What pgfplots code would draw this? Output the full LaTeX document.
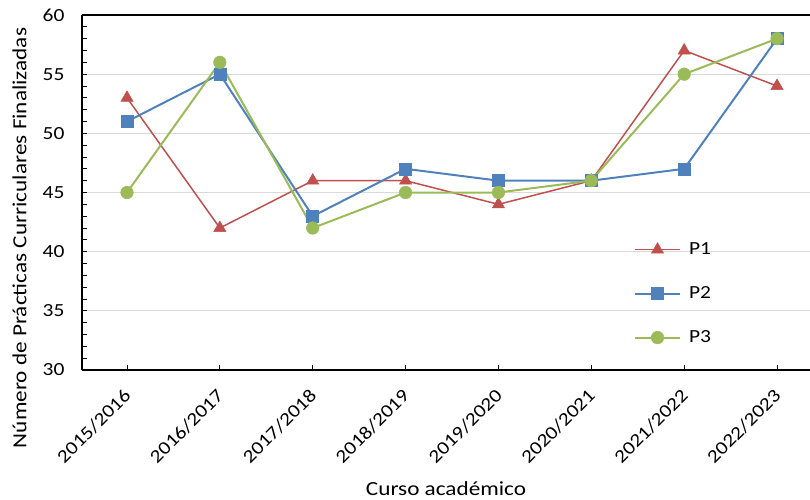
\documentclass[border=0pt]{standalone}
\usepackage{pgfplots}
\pgfplotsset{compat=1.18}
\usepackage{fontspec}
\setmainfont{Carlito}[FakeStretch=1.16]
\definecolor{cP1}{HTML}{C0504D}
\definecolor{cP2}{HTML}{4F81BD}
\definecolor{cP3}{HTML}{9BBB59}
\definecolor{cgrid}{HTML}{D9D9D9}
\begin{document}
\begin{tikzpicture}
\begin{axis}[
  name=ax,
  scale only axis,
  width=728bp, height=355bp,
  xmin=-0.4846, xmax=7.355,
  ymin=30, ymax=60,
  axis x line=box, axis y line=left,
  axis line style={-, line width=1.4bp, black},
  xtick={0,1,2,3,4,5,6,7},
  xticklabels={2015/2016,2016/2017,2017/2018,2018/2019,2019/2020,2020/2021,2021/2022,2022/2023},
  ytick={30,35,40,45,50,55,60},
  minor y tick num=4,
  xtick pos=bottom, ytick pos=left,
  tick align=inside,
  major tick length=5bp, minor tick length=5bp,
  tick style={black, line width=1bp},
  ymajorgrids,
  grid style={cgrid, line width=1.2bp},
  /pgf/number format/assume math mode=true,
  ticklabel style={font=\fontsize{18.5bp}{20bp}\selectfont},
  yticklabel style={xshift=-14bp},
  xticklabel style={yshift=-20bp, xshift=3bp, rotate=45, anchor=east},
  xlabel={Curso académico},
  ylabel={Número de Prácticas Curriculares Finalizadas},
  every axis x label/.style={at={(axis description cs:0.5,-0.335)}, anchor=center, font=\fontsize{20bp}{22bp}\selectfont},
  every axis y label/.style={at={(axis description cs:-0.086,0.372)}, anchor=center, rotate=90, font=\fontsize{20bp}{22bp}\selectfont},
  legend style={at={(axis description cs:0.758,0.364)}, anchor=north west,
    draw=none, fill=none, font=\fontsize{18.5bp}{20bp}\selectfont,
    row sep=26.5bp, inner sep=0pt,
    /tikz/every odd column/.append style={column sep=6bp}},
  legend cell align=left,
  legend image code/.code={\draw[mark repeat=2,mark phase=2,#1] plot coordinates {(0bp,0bp) (22.5bp,0bp) (45bp,0bp)};},
]
\addplot[color=cP1, line width=1.5bp, mark=triangle*, mark size=7bp, mark options={solid, line width=0.5bp}]
  coordinates {(0,53) (1,42) (2,46) (3,46) (4,44) (5,46) (6,57) (7,54)};
\addlegendentry{P1}
\addplot[color=cP2, line width=2bp, mark=square*, mark size=6bp, mark options={solid, line width=0.5bp}]
  coordinates {(0,51) (1,55) (2,43) (3,47) (4,46) (5,46) (6,47) (7,58)};
\addlegendentry{P2}
\addplot[color=cP3, line width=2bp, mark=*, mark size=6.3bp, mark options={solid, line width=0.5bp}]
  coordinates {(0,45) (1,56) (2,42) (3,45) (4,45) (5,46) (6,55) (7,58)};
\addlegendentry{P3}
\end{axis}
\pgfresetboundingbox
\useasboundingbox ([xshift=-82bp,yshift=-130bp]ax.south west) rectangle ([yshift=15bp]ax.north east);
\end{tikzpicture}
\end{document}
